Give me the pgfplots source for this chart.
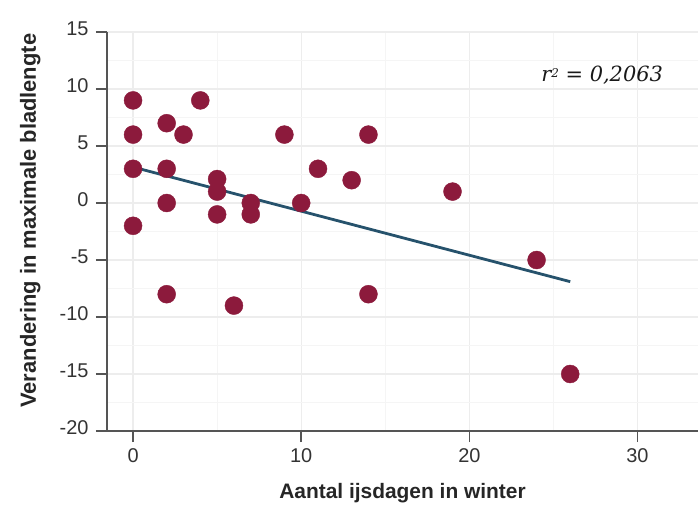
\documentclass[border=0pt]{standalone}
\usepackage{pgfplots}
\pgfplotsset{compat=1.18}
\usepackage{fontspec}
\setmainfont{Liberation Sans}
\newfontfamily\serifit{DejaVu Serif}
\definecolor{dotred}{RGB}{140,26,60}
\definecolor{linecol}{RGB}{38,82,108}
\definecolor{axgray}{RGB}{85,85,85}
\begin{document}
\begin{tikzpicture}
\useasboundingbox (-107bp,-78bp) rectangle (591bp,431bp);
\begin{axis}[
  at={(0,0)}, anchor=south west,
  scale only axis, width=591bp, height=399bp,
  xmin=-1.55, xmax=33.6, ymin=-20, ymax=15,
  xtick={0,10,20,30}, ytick={-20,-15,...,15},
  minor xtick={5,15,25}, minor ytick={-17.5,-12.5,...,12.5},
  axis x line*=bottom, axis y line*=left,
  axis line style={axgray, line width=1.6bp},
  every outer x axis line/.append style={-}, every outer y axis line/.append style={-},
  tick style={axgray, line width=1.6bp},
  major tick length=11bp, minor tick length=0pt,
  tick align=outside,
  grid=both,
  major grid style={black!7, line width=1.2bp},
  minor grid style={black!4, line width=1bp},
  /pgf/number format/assume math mode=true,
  ticklabel style={font=\fontsize{20}{22}\selectfont, text=black!80},
  yticklabel style={xshift=-4bp, yshift=3bp},
  xticklabel style={yshift=-3bp},
  xlabel={Aantal ijsdagen in winter},
  ylabel={Verandering in maximale bladlengte},
  every axis x label/.style={at={(axis description cs:0.5,-0.155)}, anchor=center, font=\fontsize{21}{23}\selectfont\bfseries, text=black!85},
  every axis y label/.style={at={(axis description cs:-0.13,0.527)}, anchor=center, rotate=90, font=\fontsize{22}{24}\selectfont\bfseries, text=black!85},
  clip=false,
]
\addplot[linecol, line width=2.8bp] coordinates {(0,3.15) (26,-6.9)};
\addplot[only marks, mark=*, mark size=9bp, mark options={fill=dotred, draw=dotred}] coordinates {
(0,9) (0,6) (0,3) (0,-2)
(2,7) (2,3) (2,0) (2,-8)
(3,6) (4,9)
(5,2.1) (5,1) (5,-1)
(6,-9)
(7,0) (7,-1)
(9,6) (10,0) (11,3) (13,2)
(14,6) (14,-8)
(19,1) (24,-5) (26,-15)
};
\node[font=\serifit\itshape\fontsize{21}{23}\selectfont, text=black!90] at (axis cs:27.9,11.2) {r\raisebox{0.2em}{\fontsize{12}{13}\selectfont 2} = 0,2063};
\end{axis}
\end{tikzpicture}
\end{document}
